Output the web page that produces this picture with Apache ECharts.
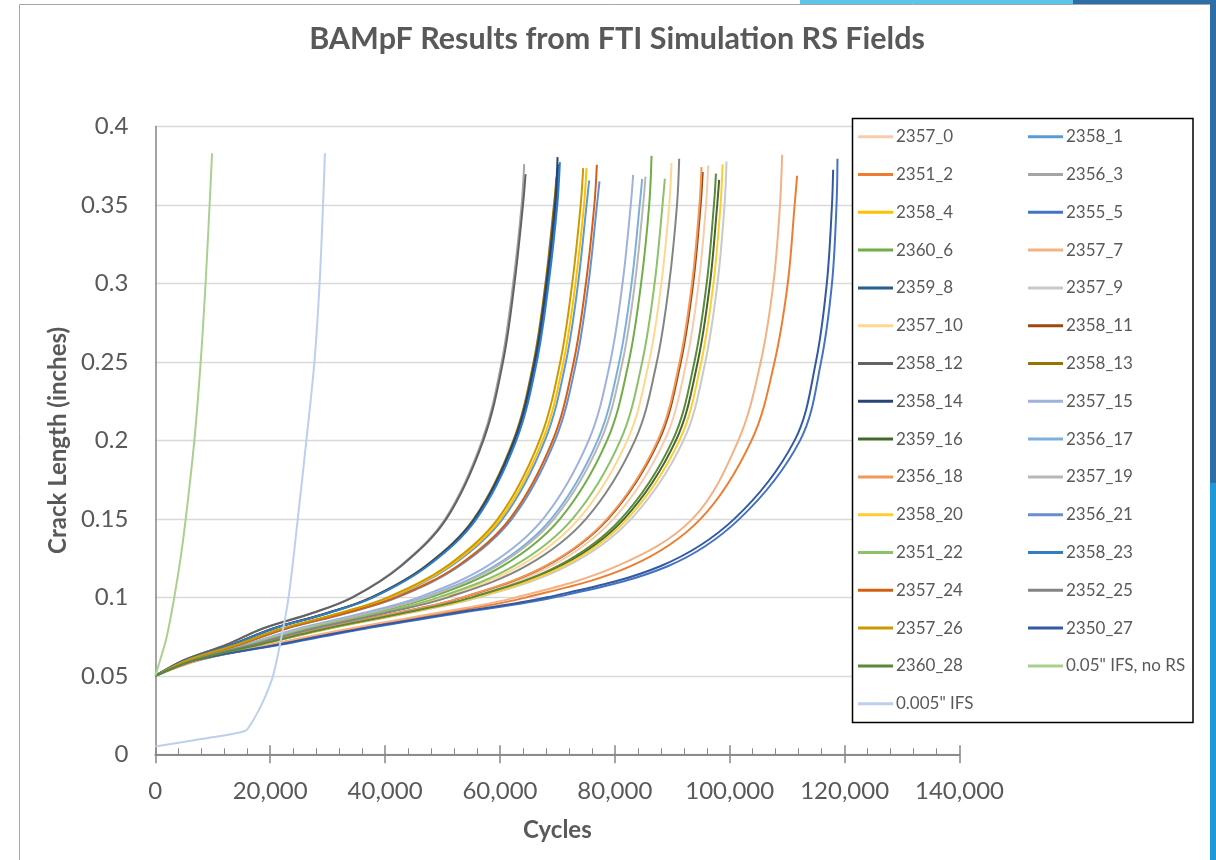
<!DOCTYPE html>
<html><head><meta charset="utf-8">
<script src="https://cdn.jsdelivr.net/npm/echarts@6/dist/echarts.min.js"></script>
<style>html,body{margin:0;padding:0;background:#fff;}#chart{width:1216px;height:860px;}</style>
</head><body><div id="chart"></div>
<script>
// Crack length levels (inches) at which cycles were read; the last entry of each series is its end point
const crackLevels = [0.05, 0.06, 0.07, 0.08, 0.09, 0.10, 0.12, 0.15, 0.20, 0.25, 0.30, 0.35];

const c2357_0  = [0, 6900, 17940, 29170, 42540, 54230, 68930, 79770, 88660, 92460, 94590, 95880, 96240];
const c2358_1  = [0, 5680, 14460, 22190, 32540, 41040, 51500, 60470, 67830, 71480, 73600, 75080, 75530];
const c2351_2  = [0, 7730, 20410, 34620, 50310, 64610, 82850, 94930, 103800, 107800, 110100, 111300, 111730];
const c2356_3  = [0, 4950, 12460, 18560, 27290, 34230, 42640, 50480, 56900, 60300, 62290, 63770, 64220];
const c2358_4  = [0, 5650, 14370, 22060, 32340, 40790, 51180, 60100, 67410, 71050, 73150, 74630, 75070];
const c2355_5  = [0, 7250, 22000, 36500, 52900, 69500, 89300, 101700, 112250, 115900, 117800, 118590, 118760];
const c2360_6  = [0, 6330, 16300, 25800, 37740, 47870, 60480, 70460, 78650, 82420, 84570, 85980, 86390];
const c2357_7  = [0, 7590, 20000, 33700, 48980, 62830, 80440, 93500, 101500, 105400, 107600, 108750, 109120];
const c2359_8  = [0, 5330, 13520, 20470, 30050, 37800, 47270, 55730, 62640, 66190, 68260, 69750, 70200];
const c2357_9  = [0, 7080, 18460, 30280, 44120, 56340, 71750, 82850, 91960, 95750, 97870, 99100, 99440];
const c2357_10 = [0, 6540, 16890, 26990, 39420, 50090, 63430, 73720, 82160, 85950, 88100, 89470, 89870];
const c2358_11 = [0, 6850, 17780, 28840, 42070, 53600, 68080, 78840, 87680, 91480, 93630, 94940, 95300];
const c2358_12 = [0, 4960, 12510, 18630, 27400, 34360, 42800, 50670, 57110, 60530, 62530, 64010, 64460];
const c2358_13 = [0, 5310, 13460, 20370, 29900, 37610, 47040, 55450, 62330, 65860, 67920, 69400, 69850];
const c2358_14 = [0, 5320, 13490, 20420, 29980, 37710, 47160, 55590, 62490, 66030, 68090, 69580, 70030];
const c2357_15 = [0, 6150, 15760, 24740, 36200, 45850, 57830, 67520, 75450, 79200, 81340, 82770, 83190];
const c2359_16 = [0, 7010, 18250, 29830, 43490, 55490, 70620, 81610, 90630, 94430, 96560, 97820, 98160];
const c2356_17 = [0, 6240, 16030, 25260, 36940, 46830, 59110, 68940, 77000, 80760, 82910, 84330, 84750];
const c2356_18 = [0, 6840, 17740, 28770, 41970, 53480, 67930, 78670, 87480, 91280, 93430, 94730, 95090];
const c2357_19 = [0, 6280, 16140, 25440, 37200, 47160, 59530, 69420, 77540, 81330, 83490, 84920, 85340];
const c2358_20 = [0, 7040, 18350, 30040, 43790, 55880, 71130, 82180, 91250, 95040, 97160, 98400, 98750];
const c2356_21 = [0, 5790, 14770, 22780, 33380, 42150, 52940, 62090, 69590, 73280, 75410, 76890, 77330];
const c2351_22 = [0, 6480, 16690, 26590, 38850, 49340, 62440, 72630, 80970, 84760, 86920, 88300, 88700];
const c2358_23 = [0, 5350, 13570, 20540, 30150, 37930, 47430, 55910, 62850, 66410, 68480, 69980, 70430];
const c2357_24 = [0, 5760, 14680, 22650, 33180, 41900, 52630, 61720, 69180, 72840, 74960, 76430, 76870];
const c2352_25 = [0, 6610, 17110, 27440, 40070, 50950, 64580, 74980, 83510, 87310, 89460, 90820, 91200];
const c2357_26 = [0, 5600, 14260, 21890, 32090, 40480, 50790, 59640, 66890, 70500, 72580, 74050, 74490];
const c2350_27 = [0, 7100, 21400, 35700, 51900, 68200, 88000, 100800, 111300, 115000, 116900, 117800, 118000];
const c2360_28 = [0, 6980, 18150, 29640, 43210, 55120, 70130, 81080, 90060, 93850, 95990, 97250, 97600];

const seriesNames = ['2357_0','2358_1','2351_2','2356_3','2358_4','2355_5','2360_6','2357_7','2359_8','2357_9',
  '2357_10','2358_11','2358_12','2358_13','2358_14','2357_15','2359_16','2356_17','2356_18','2357_19',
  '2358_20','2356_21','2351_22','2358_23','2357_24','2352_25','2357_26','2350_27','2360_28'];
const seriesCycles = [c2357_0,c2358_1,c2351_2,c2356_3,c2358_4,c2355_5,c2360_6,c2357_7,c2359_8,c2357_9,
  c2357_10,c2358_11,c2358_12,c2358_13,c2358_14,c2357_15,c2359_16,c2356_17,c2356_18,c2357_19,
  c2358_20,c2356_21,c2351_22,c2358_23,c2357_24,c2352_25,c2357_26,c2350_27,c2360_28];
const endCrack = [0.3752,0.3656,0.3686,0.376,0.3735,0.3794,0.3813,0.382,0.376,0.3777,
  0.3767,0.371,0.3697,0.368,0.3805,0.3692,0.366,0.3665,0.3741,0.3681,
  0.376,0.365,0.3667,0.3773,0.3756,0.3794,0.3735,0.3724,0.370];

// Initial flaw size runs
const ifs05Name = '0.05" IFS, no RS';
const ifs05Cycles = [0, 1000, 2000, 3300, 4400, 5300, 6800, 7900, 8750, 9450, 9880];
const ifs05Crack  = [0.05, 0.062, 0.075, 0.1, 0.125, 0.15, 0.2, 0.25, 0.3, 0.35, 0.383];
const ifs005Name = '0.005" IFS';
const ifs005Cycles = [0, 8000, 15600, 16500, 18000, 19400, 20500, 21700, 23200, 24800, 26300, 27700, 28600, 29200, 29530];
const ifs005Crack  = [0.005, 0.0097, 0.0148, 0.0185, 0.028, 0.039, 0.05, 0.07, 0.1, 0.15, 0.2, 0.25, 0.3, 0.35, 0.383];

const lineColors = ['#F8CBAD','#5B9BD5','#ED7D31','#A5A5A5','#FFC000','#4472C4','#70AD47','#F4B183','#255E91','#C9C9C9',
  '#FFD78F','#9E480E','#636363','#997300','#264478','#9FB1DE','#43682B','#7CAFDD','#F1975A','#B7B7B7',
  '#FFCD33','#698ED0','#8CC168','#327DC2','#D26012','#848484','#CC9A00','#335AA1','#5A8A39'];
const ifs05Color = '#A9D18E';
const ifs005Color = '#BCD0EE';

const FONT = 'Lato';
const TXT = '#595959';

function lineSeries(name, data, color) {
  return {
    name, type: 'line', xAxisIndex: 0, yAxisIndex: 0, data,
    symbol: 'none', showSymbol: false, smooth: 0.35,
    lineStyle: { width: 2, color }, itemStyle: { color },
    emphasis: { disabled: true }, animation: false
  };
}

const series = seriesNames.map((name, i) => lineSeries(name,
  seriesCycles[i].map((c, k) => [c, k < crackLevels.length ? crackLevels[k] : endCrack[i]]), lineColors[i]));
series.push(lineSeries(ifs05Name, ifs05Cycles.map((c, k) => [c, ifs05Crack[k]]), ifs05Color));
series.push(lineSeries(ifs005Name, ifs005Cycles.map((c, k) => [c, ifs005Crack[k]]), ifs005Color));

const allNames = seriesNames.concat([ifs05Name, ifs005Name]);
const leftNames = allNames.filter((n, i) => i % 2 === 0);
const rightNames = allNames.filter((n, i) => i % 2 === 1);

const legendBase = {
  orient: 'vertical', top: 126.7, padding: 0, itemGap: 17.8, itemWidth: 35, itemHeight: 3,
  icon: 'rect',
  textStyle: { fontFamily: FONT, fontSize: 17, color: TXT, lineHeight: 20, padding: [0, 0, 0, -2] },
  selectedMode: false
};

const gridBox = { left: 155.3, right: 256.5, top: 126.5, bottom: 105.7 };
const AX = '#868686';

const chart = echarts.init(document.getElementById('chart'), null, { renderer: 'canvas' });
chart.setOption({
  animation: false,
  backgroundColor: '#ffffff',
  title: {
    text: 'BAMpF Results from FTI Simulation RS Fields',
    left: 617, top: 24, textAlign: 'center', padding: 0,
    textStyle: { fontFamily: FONT, fontSize: 30.5, fontWeight: 'bold', color: TXT }
  },
  grid: [Object.assign({}, gridBox), Object.assign({}, gridBox)],
  legend: [
    Object.assign({}, legendBase, { left: 858, data: leftNames }),
    Object.assign({}, legendBase, { left: 1028, data: rightNames })
  ],
  xAxis: [{
    type: 'value', gridIndex: 0, min: 0, max: 140000, interval: 20000, position: 'bottom',
    axisLine: { show: true, lineStyle: { color: AX, width: 1.5 } },
    axisTick: { show: true, inside: true, length: 9, lineStyle: { color: AX, width: 1.5 } },
    minorTick: { show: true, splitNumber: 5, length: 6, lineStyle: { color: AX, width: 1 } },
    splitLine: { show: false }, minorSplitLine: { show: false },
    axisLabel: { color: TXT, fontFamily: FONT, fontSize: 24, margin: 25,
      formatter: v => v.toLocaleString('en-US') },
    name: 'Cycles', nameLocation: 'middle', nameGap: 64,
    nameTextStyle: { fontFamily: FONT, fontSize: 24, fontWeight: 'bold', color: TXT }
  }, {
    type: 'value', gridIndex: 1, min: 0, max: 140000, interval: 20000, position: 'bottom',
    axisLine: { show: true, lineStyle: { color: AX, width: 1.5 } },
    axisTick: { show: true, inside: false, length: 9, lineStyle: { color: AX, width: 1.5 } },
    axisLabel: { show: false }, splitLine: { show: false }
  }],
  yAxis: [{
    type: 'value', gridIndex: 0, min: 0, max: 0.4, interval: 0.05,
    axisLine: { show: true, lineStyle: { color: AX, width: 1.5 } },
    axisTick: { show: false },
    splitLine: { show: true, lineStyle: { color: '#D9D9D9', width: 1.3 } },
    axisLabel: { color: TXT, fontFamily: FONT, fontSize: 24, margin: 27 },
    name: 'Crack Length (inches)', nameLocation: 'middle', nameGap: 78, nameRotate: 90,
    nameTextStyle: { fontFamily: FONT, fontSize: 24, fontWeight: 'bold', color: TXT }
  }, {
    type: 'value', gridIndex: 1, min: 0, max: 0.4, show: false
  }],
  graphic: { elements: [
    { type: 'line', silent: true, shape: { x1: 19.5, y1: 4.5, x2: 1210, y2: 4.5 }, style: { stroke: '#A6A6A6', lineWidth: 1 } },
    { type: 'line', silent: true, shape: { x1: 19.5, y1: 4.5, x2: 19.5, y2: 860 }, style: { stroke: '#A6A6A6', lineWidth: 1 } },
    { type: 'rect', silent: true, shape: { x: 800, y: 0, width: 273, height: 4 }, style: { fill: '#5CC6EA' } },
    { type: 'rect', silent: true, shape: { x: 1073, y: 0, width: 143, height: 4 }, style: { fill: '#2D6EA6' } },
    { type: 'rect', silent: true, shape: { x: 1210, y: 0, width: 6, height: 483 }, style: { fill: '#2D6EA6' } },
    { type: 'rect', silent: true, shape: { x: 1210, y: 483, width: 6, height: 377 }, style: { fill: '#1E9AD6' } },
    { type: 'rect', silent: true, z: 3, shape: { x: 852.5, y: 118.5, width: 340.5, height: 604 },
      style: { fill: '#ffffff', stroke: '#000000', lineWidth: 1.5 } }
  ] },
  series
});
</script>
</body></html>
